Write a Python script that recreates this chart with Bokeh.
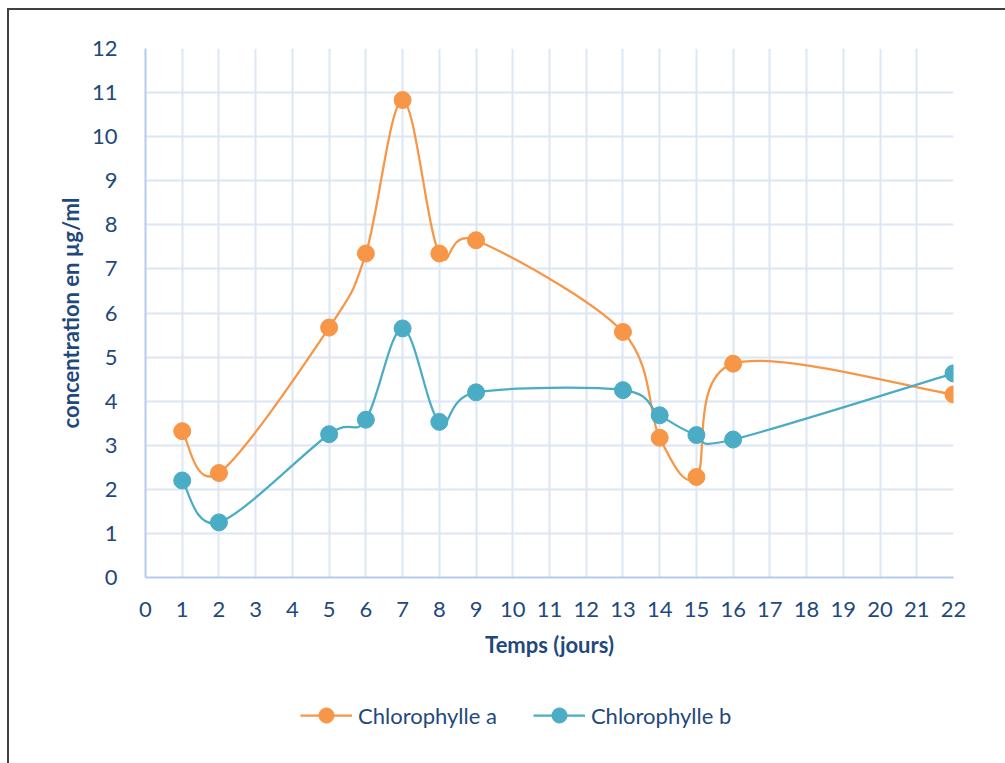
from bokeh.plotting import figure
from bokeh.layouts import column
from bokeh.models import Range1d, FixedTicker, Legend, LegendItem, ColumnDataSource, InlineStyleSheet
from bokeh.embed import file_html
from bokeh.resources import INLINE

# Sampling days and measured concentrations (µg/ml)
days = [1, 2, 5, 6, 7, 8, 9, 13, 14, 15, 16, 22]
chl_a = [3.32, 2.37, 5.67, 7.35, 10.83, 7.35, 7.65, 5.57, 3.17, 2.28, 4.85, 4.15]
chl_b = [2.20, 1.25, 3.25, 3.58, 5.65, 3.53, 4.20, 4.25, 3.68, 3.23, 3.13, 4.63]
series_names = ["Chlorophylle a", "Chlorophylle b"]
x_ticks = list(range(0, 23))
y_ticks = list(range(0, 13))

ORANGE = "#F79646"
TEAL = "#4BACC6"
TEXT = "#1F497D"
FONT = "Lato"


def smooth_segments(xs, ys):
    """Cubic Bezier segments through the points (Catmull-Rom style, 1/6 tension)."""
    n = len(xs)
    seg = dict(x0=[], y0=[], x1=[], y1=[], cx0=[], cy0=[], cx1=[], cy1=[])
    for i in range(n - 1):
        p0 = i - 1 if i > 0 else i
        p3 = i + 2 if i + 2 < n else i + 1
        seg["x0"].append(xs[i]); seg["y0"].append(ys[i])
        seg["x1"].append(xs[i + 1]); seg["y1"].append(ys[i + 1])
        seg["cx0"].append(xs[i] + (xs[i + 1] - xs[p0]) / 6.0)
        seg["cy0"].append(ys[i] + (ys[i + 1] - ys[p0]) / 6.0)
        seg["cx1"].append(xs[i + 1] - (xs[p3] - xs[i]) / 6.0)
        seg["cy1"].append(ys[i + 1] - (ys[p3] - ys[i]) / 6.0)
    return ColumnDataSource(seg)


# --- main chart -------------------------------------------------------------
p = figure(width=1005, height=670, frame_width=808, frame_height=529,
           output_backend="svg", toolbar_location=None,
           x_range=Range1d(0, 22), y_range=Range1d(0, 12),
           min_border_left=145, min_border_right=52, min_border_top=48, min_border_bottom=93)
p.outline_line_color = None
p.background_fill_color = "white"
p.border_fill_color = "white"

for ax in (p.xaxis[0], p.yaxis[0]):
    ax.major_tick_line_color = None
    ax.minor_tick_line_color = None
    ax.axis_line_color = "#B4CBEA"
    ax.axis_line_width = 2
    ax.major_label_text_color = TEXT
    ax.major_label_text_font = FONT
    ax.major_label_text_font_size = "22px"
    ax.axis_label_text_color = TEXT
    ax.axis_label_text_font = FONT
    ax.axis_label_text_font_size = "22px"
    ax.axis_label_text_font_style = "bold"

p.xaxis.ticker = FixedTicker(ticks=x_ticks)
p.yaxis.ticker = FixedTicker(ticks=y_ticks)
p.xaxis.axis_label = "Temps (jours)"
p.yaxis.axis_label = "concentration en µg/ml"
p.xaxis.major_label_standoff = 18
p.yaxis.major_label_standoff = 22
p.xaxis.axis_label_standoff = 11
p.yaxis.axis_label_standoff = 5

for g in (p.xgrid[0], p.ygrid[0]):
    g.grid_line_color = "#DCE6F4"
    g.grid_line_width = 2

colors = [ORANGE, TEAL]
series = [chl_a, chl_b]
for vals, col in zip(series, colors):
    p.bezier(x0="x0", y0="y0", x1="x1", y1="y1", cx0="cx0", cy0="cy0",
             cx1="cx1", cy1="cy1", source=smooth_segments(days, vals),
             line_color=col, line_width=2.25)
    p.scatter(days, vals, size=17, fill_color=col, line_color=col, line_width=1)

# --- legend strip beneath the chart ----------------------------------------
# The key renderers reuse the series but sit outside this strip's visible ranges,
# so only their legend swatches are shown.
lg = figure(width=1005, height=93, output_backend="svg", toolbar_location=None,
            x_range=Range1d(100, 101), y_range=Range1d(100, 101),
            x_axis_type=None, y_axis_type=None, min_border=0)
lg.outline_line_color = None
lg.xgrid.visible = False
lg.ygrid.visible = False

items = []
for name, vals, col in zip(series_names, series, colors):
    key_line = lg.line(days, vals, line_color=col, line_width=2.25)
    key_dot = lg.scatter(days, vals, fill_color=col, line_color=col, line_width=1)
    items.append(LegendItem(label=name, renderers=[key_line, key_dot]))

legend = Legend(items=items, orientation="horizontal", location=(155, 29),
                label_text_font=FONT, label_text_font_size="22px", label_text_color=TEXT,
                glyph_width=52, glyph_height=38, spacing=36, label_standoff=6,
                padding=5, margin=0, border_line_color=None, background_fill_alpha=0)
lg.add_layout(legend, "center")

page = column(p, lg, spacing=0)
page.stylesheets = [InlineStyleSheet(css=""":host::after { content: ''; position: absolute;
 left: 7px; top: 8px; right: -20px; bottom: -20px; border: 2px solid #404040;
 pointer-events: none; }
:host { overflow: hidden; }""")]

open("out.html", "w").write(file_html(page, INLINE))
